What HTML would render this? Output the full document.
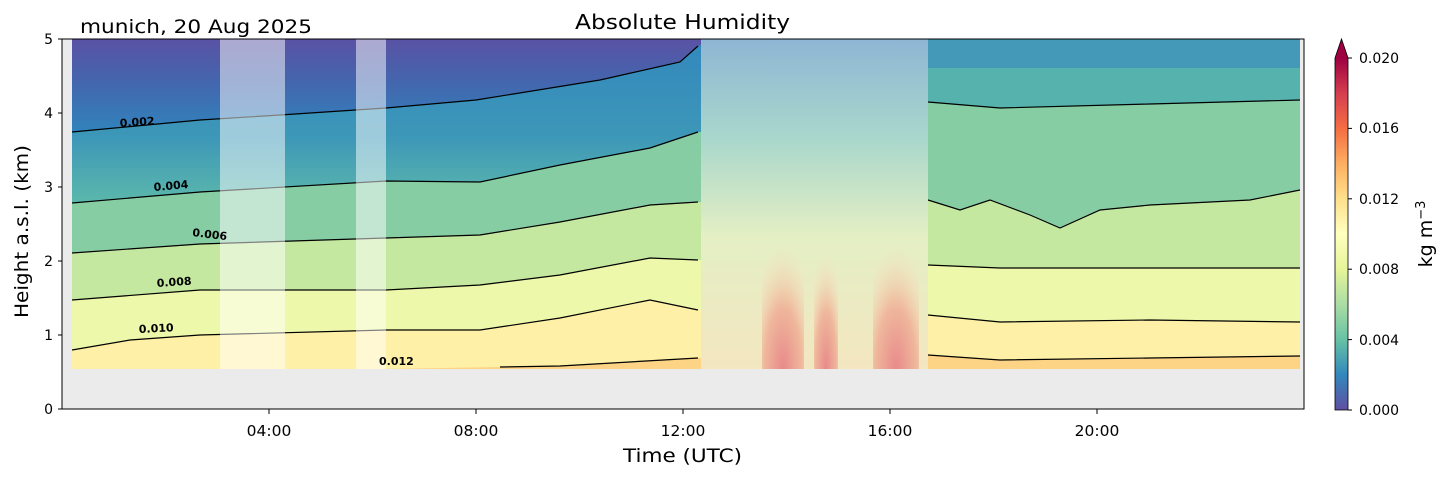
<!DOCTYPE html>
<html><head><meta charset="utf-8"><style>
body{margin:0;background:#fff;}
svg text{font-family:"DejaVu Sans","Liberation Sans",sans-serif;}
</style></head><body>
<svg width="1454" height="478" xmlns="http://www.w3.org/2000/svg">
<defs>
<linearGradient id="cb" x1="0" y1="1" x2="0" y2="0">
<stop offset="0" stop-color="#5e4fa2"/><stop offset="0.1" stop-color="#3288bd"/>
<stop offset="0.2" stop-color="#66c2a5"/><stop offset="0.3" stop-color="#abdda4"/>
<stop offset="0.4" stop-color="#e6f598"/><stop offset="0.5" stop-color="#ffffbf"/>
<stop offset="0.6" stop-color="#fee08b"/><stop offset="0.7" stop-color="#fdae61"/>
<stop offset="0.8" stop-color="#f46d43"/><stop offset="0.9" stop-color="#d53e4f"/>
<stop offset="1" stop-color="#9e0142"/></linearGradient>
<linearGradient id="topg" x1="0" y1="0" x2="0" y2="1">
<stop offset="0" stop-color="#5a52a4"/><stop offset="0.45" stop-color="#4465ad"/><stop offset="1" stop-color="#3183bc"/></linearGradient>
<linearGradient id="b2" x1="0" y1="0" x2="0" y2="1">
<stop offset="0" stop-color="#3288bd"/><stop offset="0.6" stop-color="#3d97b8"/><stop offset="1" stop-color="#5bb8ab"/></linearGradient>
<linearGradient id="mid" x1="0" y1="0" x2="0" y2="1">
<stop offset="0" stop-color="#8eb6d4"/><stop offset="0.3" stop-color="#a9d7cc"/>
<stop offset="0.6" stop-color="#e4efc4"/><stop offset="1" stop-color="#f3e6c0"/></linearGradient>
<radialGradient id="red" cx="0.5" cy="1" r="0.9">
<stop offset="0" stop-color="#e88a8a"/><stop offset="0.5" stop-color="#efb89c"/><stop offset="1" stop-color="#f5e8c4" stop-opacity="0"/></radialGradient>
</defs>
<rect x="62" y="39" width="1242" height="370" fill="#ebebeb"/>
<g>
<rect x="72" y="39" width="629" height="330" fill="#fdd485"/>
<path d="M72,39 L72,369 L380,369 L560,366 L698,358 L701,358 L701,39Z" fill="#fef0a6"/>
<path d="M72,39 L72,350 L130,340 L200,335 L386,330 L480,330 L560,318 L650,300 L698,310 L701,310 L701,39Z" fill="#eef8aa"/>
<path d="M72,39 L72,300 L200,290 L386,290 L480,285 L560,275 L650,258 L698,260 L701,260 L701,39Z" fill="#c4e8a0"/>
<path d="M72,39 L72,253 L200,244 L386,238 L480,235 L560,222 L650,205 L698,202 L701,202 L701,39Z" fill="#86cda4"/>
<path d="M72,39 L72,203 L200,192 L386,181 L480,182 L560,165 L650,148 L698,132 L701,132 L701,39Z" fill="url(#b2)"/>
<path d="M72,39 L72,132 L200,120 L280,115 L386,108 L476,100 L600,80 L680,62 L698,46 L701,45 L701,39Z" fill="url(#topg)"/>
</g>
<g fill="none" stroke="#000" stroke-width="1.2">
<path d="M72,132 L200,120 L280,115 L386,108 L476,100 L600,80 L680,62 L698,46"/>
<path d="M72,203 L200,192 L386,181 L480,182 L560,165 L650,148 L698,132"/>
<path d="M72,253 L200,244 L386,238 L480,235 L560,222 L650,205 L698,202"/>
<path d="M72,300 L200,290 L386,290 L480,285 L560,275 L650,258 L698,260"/>
<path d="M72,350 L130,340 L200,335 L386,330 L480,330 L560,318 L650,300 L698,310"/>
<path d="M500,367 L560,366 L698,358"/>
</g>
<rect x="928" y="39" width="372" height="330" fill="#fdd485"/>
<path d="M928,39 L928,355 L1000,360 L1150,358 L1300,356 L1300,39Z" fill="#fef0a6"/>
<path d="M928,39 L928,315 L1000,322 L1150,320 L1300,322 L1300,39Z" fill="#eef8aa"/>
<path d="M928,39 L928,265 L1000,268 L1150,268 L1300,268 L1300,39Z" fill="#c4e8a0"/>
<path d="M928,39 L928,200 L960,210 L990,200 L1030,215 L1060,228 L1100,210 L1150,205 L1250,200 L1300,190 L1300,39Z" fill="#86cda4"/>
<path d="M928,39 L928,102 L1000,108 L1150,104 L1300,100 L1300,39Z" fill="#55b2ad"/>
<path d="M928,39 L928,68 L1300,68 L1300,39Z" fill="#4399b7"/>
<g fill="none" stroke="#000" stroke-width="1.2">
<path d="M928,102 L1000,108 L1150,104 L1300,100"/>
<path d="M928,200 L960,210 L990,200 L1030,215 L1060,228 L1100,210 L1150,205 L1250,200 L1300,190"/>
<path d="M928,265 L1000,268 L1150,268 L1300,268"/>
<path d="M928,315 L1000,322 L1150,320 L1300,322"/>
<path d="M928,355 L1000,360 L1150,358 L1300,356"/>
</g>
<rect x="701" y="39" width="227" height="330" fill="url(#mid)"/>
<rect x="762" y="230" width="42" height="139" fill="url(#red)"/>
<rect x="814" y="240" width="24" height="129" fill="url(#red)"/>
<rect x="873" y="230" width="46" height="139" fill="url(#red)"/>
<rect x="220" y="39" width="65" height="330" fill="#fff" opacity="0.5"/>
<rect x="356" y="39" width="30" height="330" fill="#fff" opacity="0.5"/>
<g font-size="11" font-weight="bold">
<text x="120" y="127" transform="rotate(-4 120 127)">0.002</text>
<text x="154" y="191" transform="rotate(-5 154 191)">0.004</text>
<text x="192" y="236" transform="rotate(7 192 236)">0.006</text>
<text x="157" y="287" transform="rotate(-4 157 287)">0.008</text>
<text x="139" y="333" transform="rotate(-3 139 333)">0.010</text>
<text x="379" y="365">0.012</text>
</g>
<rect x="62" y="39" width="1242" height="370" fill="none" stroke="#000" stroke-width="1"/>
<g stroke="#000">
<line x1="58" y1="409" x2="62" y2="409"/><line x1="58" y1="335" x2="62" y2="335"/>
<line x1="58" y1="261" x2="62" y2="261"/><line x1="58" y1="187" x2="62" y2="187"/>
<line x1="58" y1="113" x2="62" y2="113"/><line x1="58" y1="39" x2="62" y2="39"/>
<line x1="269" y1="409" x2="269" y2="414"/><line x1="476" y1="409" x2="476" y2="414"/>
<line x1="683" y1="409" x2="683" y2="414"/><line x1="890" y1="409" x2="890" y2="414"/>
<line x1="1097" y1="409" x2="1097" y2="414"/>
</g>
<g font-size="14" text-anchor="end">
<text x="53" y="414">0</text><text x="53" y="340">1</text><text x="53" y="266">2</text>
<text x="53" y="192">3</text><text x="53" y="118">4</text><text x="53" y="44">5</text>
</g>
<g font-size="15.5" text-anchor="middle">
<text x="269" y="436">04:00</text><text x="476" y="436">08:00</text><text x="683" y="436">12:00</text>
<text x="890" y="436">16:00</text><text x="1097" y="436">20:00</text>
</g>
<text x="623" y="462" font-size="19" textLength="119" lengthAdjust="spacingAndGlyphs">Time (UTC)</text>
<text x="28" y="318" font-size="19" textLength="173" lengthAdjust="spacingAndGlyphs" transform="rotate(-90 28 318)">Height a.s.l. (km)</text>
<text x="575" y="29" font-size="20" textLength="215" lengthAdjust="spacingAndGlyphs">Absolute Humidity</text>
<text x="80" y="33" font-size="19" textLength="232" lengthAdjust="spacingAndGlyphs">munich, 20 Aug 2025</text>
<rect x="1335" y="58" width="13" height="352" fill="url(#cb)"/>
<path d="M1335,58 L1341.5,39 L1348,58Z" fill="#9e0142"/>
<path d="M1335,58 L1341.5,39 L1348,58 L1348,410 L1335,410Z" fill="none" stroke="#000" stroke-width="0.8"/>
<g stroke="#000">
<line x1="1348" y1="410" x2="1352" y2="410"/><line x1="1348" y1="339.6" x2="1352" y2="339.6"/>
<line x1="1348" y1="269.2" x2="1352" y2="269.2"/><line x1="1348" y1="198.8" x2="1352" y2="198.8"/>
<line x1="1348" y1="128.4" x2="1352" y2="128.4"/><line x1="1348" y1="58" x2="1352" y2="58"/>
</g>
<g font-size="14">
<text x="1359" y="415">0.000</text><text x="1359" y="345">0.004</text><text x="1359" y="274">0.008</text>
<text x="1359" y="204">0.012</text><text x="1359" y="133">0.016</text><text x="1359" y="63">0.020</text>
</g>
<text x="1432" y="234" font-size="19" text-anchor="middle" transform="rotate(-90 1432 234)">kg m<tspan font-size="13" dy="-7">−3</tspan></text>
</svg>
</body></html>
